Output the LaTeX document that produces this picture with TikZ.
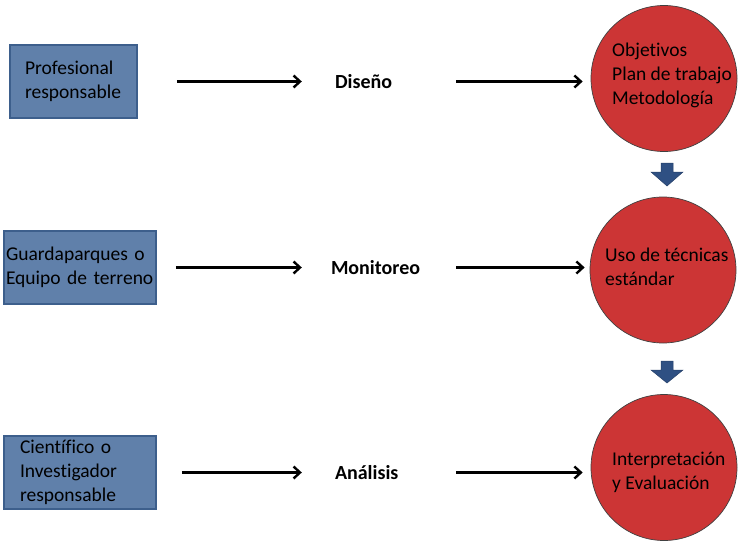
\documentclass[tikz,border=0pt]{standalone}
\usepackage{fontspec}
\setmainfont{Carlito}[Ligatures=NoCommon]
\usetikzlibrary{arrows.meta}
\definecolor{boxfill}{HTML}{6080AA}
\definecolor{boxedge}{HTML}{3D5F8C}
\definecolor{circfill}{HTML}{CC3535}
\definecolor{blockarr}{HTML}{2F5083}
\begin{document}
\begin{tikzpicture}[x=1pt,y=-1pt,
  bodyfont/.style={font=\fontsize{19.5}{24}\selectfont},
  box/.style={draw=boxedge, line width=1.5pt, fill=boxfill, align=left,
    minimum height=73pt, inner ysep=0pt, bodyfont},
  circ/.style={circle, draw=black!75, line width=0.7pt, fill=circfill,
    minimum size=146pt, inner sep=0pt},
  lab/.style={minimum width=154pt, text width=88pt, inner xsep=33pt,
    align=left, font=\bfseries\fontsize{20}{24}\selectfont},
  ctext/.style={anchor=west, inner sep=0pt, align=left, bodyfont},
  arr/.style={line width=2.4pt, -{Straight Barb[length=6.5pt,width=12pt]}},
  blk/.style={fill=blockarr, draw=blockarr!80!black, line width=0.5pt}]
\useasboundingbox (0,0) rectangle (741,541);

% left boxes
\node[box, text width=97pt, inner xsep=15pt] (b1) at (73.5,81.5) {Profesional\\responsable};
\node[box, text width=148pt, inner xsep=2pt] (b2) at (80,267.5) {Guardaparques o\\Equipo de terreno};
\node[box, text width=120pt, inner xsep=16pt] (b3) at (80,472.5) {Científico o\\Investigador\\responsable};

% middle labels
\node[lab] (l1) at (379,81.5) {Diseño};
\node[lab, inner xsep=29pt, text width=96pt] (l2) at (379,267.5) {Monitoreo};
\node[lab] (l3) at (379,472.5) {Análisis};

% circles
\node[circ] (c1) at (664,78.5) {};
\node[circ] (c2) at (663,270) {};
\node[circ] (c3) at (664,467.5) {};
\node[ctext] (t1) at (612,75) {Objetivos\\Plan de trabajo\\Metodología};
\node[ctext] (t2) at (605,267) {Uso de técnicas\\estándar};
\node[ctext] (t3) at (612,472) {Interpretación\\y Evaluación};

% connectors
\draw[arr, shorten <=39pt] (b1.east) -- (l1.west);
\draw[arr, shorten >=8pt] (l1.east) -- (l1.east -| c1.west);
\draw[arr, shorten <=19pt] (b2.east) -- (l2.west);
\draw[arr, shorten >=5pt] (l2.east) -- (l2.east -| c2.west);
\draw[arr, shorten <=25pt] (b3.east) -- (l3.west);
\draw[arr, shorten >=8pt] (l3.east) -- (l3.east -| c3.west);

% block arrows between circles
\draw[blk] (661,163) -- (673,163) -- (673,172) -- (683,172) -- (667,186) -- (651,172) -- (661,172) -- cycle;
\draw[blk] (661,361) -- (673,361) -- (673,370) -- (683,370) -- (667,383) -- (651,370) -- (661,370) -- cycle;
\end{tikzpicture}
\end{document}
